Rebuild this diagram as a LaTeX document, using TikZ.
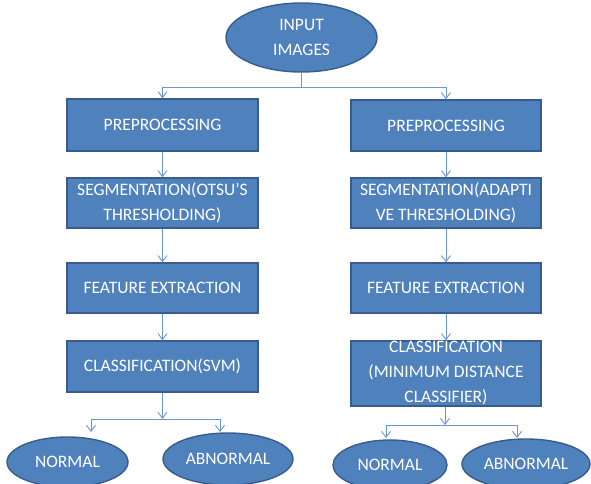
\documentclass[tikz,border=0pt]{standalone}
\usepackage{fontspec}
\setmainfont{Carlito}
\usetikzlibrary{arrows.meta,shapes.geometric}
\definecolor{boxfill}{HTML}{4F81BD}
\definecolor{boxline}{HTML}{385D8A}
\definecolor{conn}{HTML}{6A95CE}
\tikzset{
  x=1pt,y=-1pt,
  stepbox/.style={rectangle,draw=boxline,fill=boxfill,line width=1.4pt,
    minimum width=191pt,minimum height=52pt,inner sep=0pt,align=center,
    text=white,font=\fontsize{17.5}{25}\selectfont},
  oval/.style={ellipse,draw=boxline,fill=boxfill,line width=1.4pt,inner sep=0pt,
    align=center,text=white,font=\fontsize{17.5}{25}\selectfont},
  link/.style={draw=conn,line width=0.9pt},
  arr/.style={link,-{Straight Barb[length=6pt,width=9pt]}}
}
\begin{document}
\begin{tikzpicture}
\useasboundingbox[fill=white] (0,0) rectangle (591,483);
% top
\node[oval,minimum width=151pt,minimum height=69pt] (in) at (301.5,37.5) {INPUT\\IMAGES};
% left column
\node[stepbox] (pl) at (162.5,125) {PREPROCESSING};
\node[stepbox,minimum height=50pt] (sl) at (162.5,203) {SEGMENTATION(OTSU’S\\THRESHOLDING)};
\node[stepbox,minimum height=50pt] (fl) at (162.5,288) {FEATURE EXTRACTION};
\node[stepbox,minimum height=51pt] (cl) at (162.5,366.5) {CLASSIFICATION(SVM)};
% right column
\node[stepbox,minimum width=190pt,minimum height=51pt] (pr) at (446,125.5) {PREPROCESSING};
\node[stepbox,minimum width=190pt,minimum height=50pt] (sr) at (446,203) {SEGMENTATION(ADAPTI\\VE THRESHOLDING)};
\node[stepbox,minimum width=190pt,minimum height=50pt] (fr) at (446,288) {FEATURE EXTRACTION};
\node[stepbox,minimum width=190pt,minimum height=65pt] (cr) at (446,373.5) {CLASSIFICATION\\(MINIMUM DISTANCE\\CLASSIFIER)};
% outcomes
\node[oval,minimum width=121pt,minimum height=50pt] (nl) at (67.5,462) {NORMAL};
\node[oval,minimum width=130pt,minimum height=52pt] (al) at (228,459) {ABNORMAL};
\node[oval,minimum width=114pt,minimum height=50pt] (nr) at (390,465) {NORMAL};
\node[oval,minimum width=128pt,minimum height=50pt] (ar) at (526,464) {ABNORMAL};
% junctions
\coordinate (jt) at (301.5,87);
\coordinate (jl) at (162.5,419);
\coordinate (jr) at (445,425);
\coordinate (tnl) at (91,432);
\coordinate (tal) at (220,432);
\coordinate (tnr) at (386,438);
\coordinate (tar) at (517,438);
% connectors
\draw[link] (in) -- (jt);
\draw[arr] (jt) -| (pl);
\draw[arr] (jt) -| (pr);
\draw[arr] (pl) -- (sl);
\draw[arr] (sl) -- (fl);
\draw[arr] (fl) -- (cl);
\draw[arr] (pr) -- (sr);
\draw[arr] (sr) -- (fr);
\draw[arr] (fr) -- (cr);
\draw[arr] (cl) -- (jl);
\draw[arr] (jl) -| (tnl);
\draw[arr] (jl) -| (tal);
\draw[arr] (cr.south -| jr) -- (jr);
\draw[arr] (jr) -| (tnr);
\draw[arr] (jr) -| (tar);
\end{tikzpicture}
\end{document}
